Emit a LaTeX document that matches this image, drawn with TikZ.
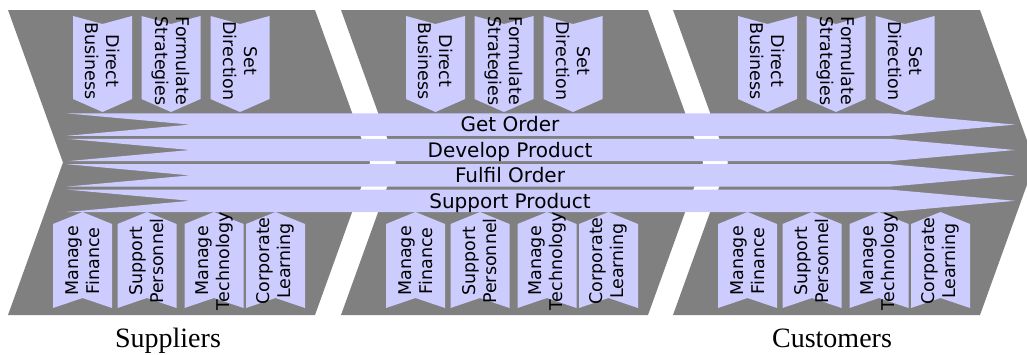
\documentclass[tikz,border=0pt]{standalone}
\usepackage{fontspec}
\setmainfont{DejaVu Sans}
\newfontfamily\labelfont{Liberation Serif}
\definecolor{chevgrey}{RGB}{128,128,128}
\definecolor{lav}{RGB}{204,204,255}
\begin{document}
\begin{tikzpicture}[x=1pt,y=-1pt,
  chev/.style={fill=chevgrey},
  barshape/.style={fill=lav},
  tagshape/.style={fill=lav},
  bartext/.style={font=\fontsize{20}{24}\selectfont, anchor=base, inner sep=0pt},
  tagtext/.style={font=\fontsize{17.5}{21}\selectfont, align=center, inner sep=0pt},
  lbl/.style={font=\labelfont\fontsize{28}{32}\selectfont, anchor=base, inner sep=0pt}]
\useasboundingbox (0,0) rectangle (1027,354);

% chevrons
\foreach \o in {0,333,665}{
  \fill[chev] (8+\o,10) -- (315+\o,10) -- (370+\o,162.5) -- (315+\o,315)
    -- (8+\o,315) -- (63+\o,162.5) -- cycle;
}

% process bars
\foreach \c/\t/\n in {124.6/Get Order/b1, 150/Develop Product/b2,
                      175.4/Fulfil Order/b3, 200.8/Support Product/b4}{
  \fill[barshape] (67,\c-11.2) -- (890,\c-11.2) -- (1015,\c) -- (890,\c+11.2)
    -- (67,\c+11.2) -- (190,\c) -- cycle;
  \node[bartext] (\n) at (510,\c+7.3) {\t};
}

% top tags
\foreach \o [count=\i] in {0,333,665}{
  \foreach \x/\t [count=\j] in {102.5/{Direct\\Business}, 171/{Formulate\\Strategies},
                                240/{Set\\Direction}}{
    \fill[tagshape] (\o+\x-29.5,16) -- (\o+\x,24) -- (\o+\x+29.5,16)
      -- (\o+\x+29.5,99) -- (\o+\x,112) -- (\o+\x-29.5,99) -- cycle;
    \node[tagtext, rotate=-90] (t\i\j) at (\o+\x,61) {\t};
  }
  \foreach \x/\t [count=\j] in {82.5/{Manage\\Finance}, 147/{Support\\Personnel},
                                214/{Manage\\Technology}, 275.5/{Corporate\\Learning}}{
    \fill[tagshape] (\o+\x-29.5,224) -- (\o+\x,212) -- (\o+\x+29.5,224)
      -- (\o+\x+29.5,308) -- (\o+\x,298) -- (\o+\x-29.5,308) -- cycle;
    \node[tagtext, rotate=90] (s\i\j) at (\o+\x,261) {\t};
  }
}

\node[lbl] (sup) at (168,347) {Suppliers};
\node[lbl] (cus) at (832,347) {Customers};
\end{tikzpicture}
\end{document}
